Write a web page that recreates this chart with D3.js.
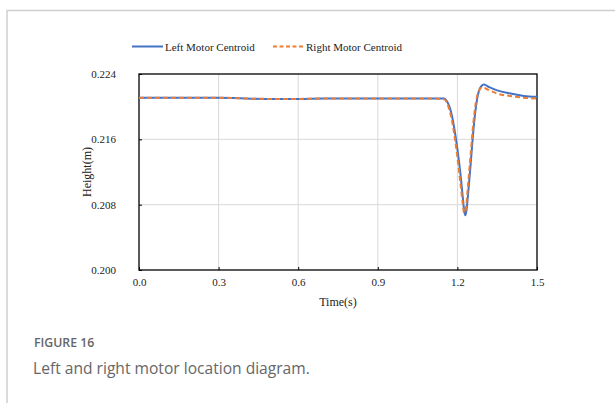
<!DOCTYPE html>
<html>
<head>
<meta charset="utf-8">
<script src="https://cdn.jsdelivr.net/npm/d3@7"></script>
<style>
  body { margin: 0; background: #fff; }
  svg { display: block; }
</style>
</head>
<body>
<svg id="chart" width="615" height="403"></svg>
<script>
// time samples (s)
var times = [0, 0.1, 0.2, 0.3, 0.4, 0.5, 0.6, 0.7, 0.8, 0.9, 1.0, 1.1, 1.15, 1.16, 1.17, 1.18, 1.19, 1.2,
  1.21, 1.22, 1.225, 1.23, 1.235, 1.24, 1.25, 1.26, 1.27, 1.28, 1.29, 1.3, 1.32, 1.35, 1.4, 1.45, 1.5];
// heights (m)
var leftHeight = [0.2211, 0.2211, 0.2211, 0.2211, 0.22100, 0.22095, 0.22095, 0.2210, 0.2210, 0.2210, 0.2210, 0.2210, 0.2210,
  0.2207, 0.2200, 0.2188, 0.2170, 0.2148, 0.2122, 0.2090, 0.2074, 0.2067, 0.2075, 0.2092, 0.2130, 0.2170, 0.2200,
  0.2218, 0.2225, 0.2227, 0.2224, 0.2220, 0.2216, 0.2213, 0.2212];
var rightHeight = [0.2211, 0.2211, 0.2211, 0.2211, 0.22100, 0.22095, 0.22095, 0.2210, 0.2210, 0.2210, 0.2210, 0.2210, 0.2209,
  0.2205, 0.2196, 0.2182, 0.2162, 0.2138, 0.2110, 0.2082, 0.2070, 0.2072, 0.2085, 0.2104, 0.2142, 0.2180, 0.2206,
  0.2219, 0.2223, 0.2223, 0.2220, 0.2216, 0.2213, 0.2211, 0.2210];
var xTicks = [0, 0.3, 0.6, 0.9, 1.2, 1.5];
var yTicks = [0.200, 0.208, 0.216, 0.224];
var seriesNames = ["Left Motor Centroid", "Right Motor Centroid"];

var svg = d3.select("#chart");

// page frame
svg.append("line").attr("x1", 7).attr("x2", 615).attr("y1", 10.5).attr("y2", 10.5)
  .attr("stroke", "#cfcfcf").attr("stroke-width", 1.5);
svg.append("line").attr("x1", 7).attr("x2", 7).attr("y1", 10).attr("y2", 403)
  .attr("stroke", "#cfcfcf").attr("stroke-width", 1.5);

var plotL = 139, plotR = 537, plotT = 74, plotB = 270;
var x = d3.scaleLinear().domain([0, 1.5]).range([plotL, plotR]);
var y = d3.scaleLinear().domain([0.200, 0.224]).range([plotB, plotT]);

var serif = "'Liberation Serif', 'Times New Roman', serif";

// grid
svg.append("g").selectAll("line").data(xTicks.slice(1, -1)).join("line")
  .attr("x1", d => x(d)).attr("x2", d => x(d)).attr("y1", plotT).attr("y2", plotB)
  .attr("stroke", "#d9d9d9").attr("stroke-width", 1);
svg.append("g").selectAll("line").data(yTicks.slice(1, -1)).join("line")
  .attr("x1", plotL).attr("x2", plotR).attr("y1", d => y(d)).attr("y2", d => y(d))
  .attr("stroke", "#d9d9d9").attr("stroke-width", 1);

// axes with inner ticks
var xAxis = svg.append("g").attr("transform", "translate(0," + plotB + ")")
  .call(d3.axisBottom(x).tickValues(xTicks).tickSizeInner(-3).tickSizeOuter(0).tickPadding(8).tickFormat(d3.format(".1f")));
var yAxis = svg.append("g").attr("transform", "translate(" + plotL + ",0)")
  .call(d3.axisLeft(y).tickValues(yTicks).tickSizeInner(-3).tickSizeOuter(0).tickPadding(23).tickFormat(d3.format(".3f")));
[xAxis, yAxis].forEach(function(a) {
  a.select(".domain").remove();
  a.selectAll("line").attr("stroke", "#000");
  a.selectAll("text").style("font-family", serif).style("font-size", "11px").attr("fill", "#222");
});

// plot border
svg.append("rect").attr("x", plotL).attr("y", plotT).attr("width", plotR - plotL).attr("height", plotB - plotT)
  .attr("fill", "none").attr("stroke", "#000").attr("stroke-width", 1.3);

var line = d3.line().x((d, i) => x(times[i])).y(d => y(d)).curve(d3.curveMonotoneX);

svg.append("path").datum(leftHeight).attr("d", line)
  .attr("fill", "none").attr("stroke", "#4472C4").attr("stroke-width", 2);
svg.append("path").datum(rightHeight).attr("d", line)
  .attr("fill", "none").attr("stroke", "#ED7D31").attr("stroke-width", 2).attr("stroke-dasharray", "5,3");

// axis titles
svg.append("text").attr("x", x(0.75)).attr("y", 306).attr("text-anchor", "middle")
  .style("font-family", serif).style("font-size", "12px").attr("fill", "#222").text("Time(s)");
svg.append("text").attr("transform", "translate(91," + ((plotT + plotB) / 2) + ") rotate(-90)")
  .attr("text-anchor", "middle")
  .style("font-family", serif).style("font-size", "12px").attr("fill", "#222").text("Height(m)");

// legend
var legend = svg.append("g");
legend.append("line").attr("x1", 132).attr("x2", 163).attr("y1", 46.5).attr("y2", 46.5)
  .attr("stroke", "#4472C4").attr("stroke-width", 2);
legend.append("text").attr("x", 165).attr("y", 50.5).text(seriesNames[0])
  .style("font-family", serif).style("font-size", "11px").attr("fill", "#222");
legend.append("line").attr("x1", 273).attr("x2", 304).attr("y1", 46.5).attr("y2", 46.5)
  .attr("stroke", "#ED7D31").attr("stroke-width", 2).attr("stroke-dasharray", "4,2.5");
legend.append("text").attr("x", 306).attr("y", 50.5).text(seriesNames[1])
  .style("font-family", serif).style("font-size", "11px").attr("fill", "#222");

// caption
svg.append("text").attr("x", 34).attr("y", 347).text("FIGURE 16")
  .style("font-family", "'Open Sans', 'Noto Sans', sans-serif").style("font-size", "12.3px")
  .style("font-weight", 600).attr("fill", "#666");
svg.append("text").attr("x", 33).attr("y", 374).text("Left and right motor location diagram.")
  .style("font-family", "'Open Sans', 'Noto Sans', sans-serif").style("font-size", "15.6px").attr("fill", "#666");
</script>
</body>
</html>
